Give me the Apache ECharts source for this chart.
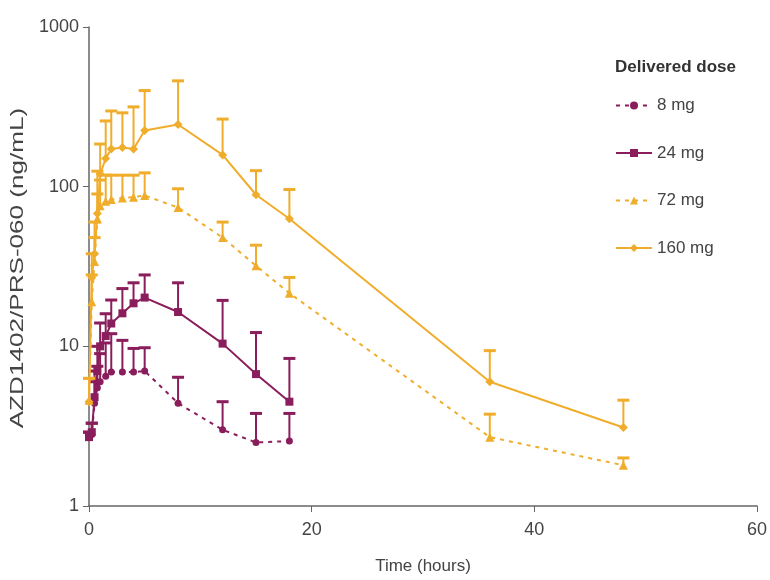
<!DOCTYPE html>
<html>
<head>
<meta charset="utf-8">
<script src="https://cdn.jsdelivr.net/npm/echarts@6/dist/echarts.min.js"></script>
<style>
html,body{margin:0;padding:0;background:#fff;}
#chart{width:770px;height:580px;}
</style>
</head>
<body>
<div id="chart"></div>
<script>
// ---- data ----
var seriesNames = ['8 mg', '24 mg', '72 mg', '160 mg'];
var xTicks = [0, 20, 40, 60];
var yTicks = [1, 10, 100, 1000];

var time8 = [0, 0.25, 0.5, 0.75, 1, 1.5, 2, 3, 4, 5, 8, 12, 15, 18];
var mean8 = [2.7, 2.8, 4.4, 5.5, 6.0, 6.5, 6.9, 6.9, 6.9, 7.0, 4.4, 3.0, 2.5, 2.55];
var upper8 = [2.9, 3.3, 6.0, 7.5, 9.0, 10.5, 12.0, 10.9, 9.7, 9.8, 6.4, 4.5, 3.8, 3.8];

var time24 = [0, 0.25, 0.5, 0.75, 1, 1.5, 2, 3, 4, 5, 8, 12, 15, 18];
var mean24 = [2.7, 2.9, 4.8, 7.0, 10.0, 11.6, 13.9, 16.1, 18.6, 20.2, 16.4, 10.4, 6.7, 4.5];
var upper24 = [2.9, 3.3, 7.0, 10.0, 14.0, 16.0, 19.5, 23.0, 25.0, 28.0, 25.0, 19.4, 12.2, 8.4];

var time72 = [0, 0.25, 0.5, 0.75, 1, 1.5, 2, 3, 4, 5, 8, 12, 15, 18, 36, 48];
var mean72 = [4.6, 19, 34, 63, 76, 81, 83, 85, 86, 88, 74, 48, 32, 21.5, 2.7, 1.8];
var upper72 = [6.3, 28, 48, 90, 110, 118, 118, 118, 118, 122, 97, 60, 43, 27, 3.76, 2.0];

var time160 = [0, 0.25, 0.5, 0.75, 1, 1.5, 2, 3, 4, 5, 8, 12, 15, 18, 36, 48];
var mean160 = [4.5, 27, 38, 68, 120, 150, 172, 176, 172, 225, 245, 158, 89, 63, 6.0, 3.1];
var upper160 = [6.3, 38, 60, 125, 185, 258, 298, 290, 316, 400, 460, 265, 126, 96, 9.4, 4.6];

var PURPLE = '#8a1d5c';
var GOLD = '#f0ad2c';
var FONT = "'Liberation Sans', Arial, sans-serif";

function pairs(t, v) { return t.map(function (x, i) { return [x, v[i]]; }); }
function triples(t, v, u) { return t.map(function (x, i) { return [x, v[i], u[i]]; }); }

function errSeries(name, t, v, u, color) {
  return {
    type: 'custom',
    name: name,
    z: 1,
    silent: true,
    data: triples(t, v, u),
    renderItem: function (params, api) {
      var p0 = api.coord([api.value(0), api.value(1)]);
      var p1 = api.coord([api.value(0), api.value(2)]);
      var hw = 6;
      return {
        type: 'group',
        children: [
          { type: 'line', shape: { x1: p0[0], y1: p0[1], x2: p1[0], y2: p1[1] }, style: { stroke: color, lineWidth: 2 } },
          { type: 'line', shape: { x1: p1[0] - hw, y1: p1[1], x2: p1[0] + hw, y2: p1[1] }, style: { stroke: color, lineWidth: 3 } }
        ]
      };
    },
    encode: { x: 0, y: [1, 2] }
  };
}

function lineSeries(name, t, v, color, symbol, size, dashed) {
  return {
    type: 'line',
    name: name,
    z: 3,
    data: pairs(t, v),
    symbol: symbol,
    symbolSize: size,
    showAllSymbol: true,
    itemStyle: { color: color },
    lineStyle: { color: color, width: 2, type: dashed ? [4, 5] : 'solid' }
  };
}

var chart = echarts.init(document.getElementById('chart'));
chart.setOption({
  animation: false,
  backgroundColor: '#fff',
  grid: { left: 89, right: 12, top: 27, bottom: 74 },
  title: {
    text: 'Delivered dose',
    left: 610, top: 54,
    textStyle: { fontFamily: FONT, fontSize: 17, fontWeight: 'bold', color: '#333' }
  },
  legend: {
    data: seriesNames,
    orient: 'vertical',
    left: 610, top: 92,
    itemWidth: 36, itemHeight: 10,
    itemGap: 30.5,
    textStyle: { fontFamily: FONT, fontSize: 17, color: '#444' }
  },
  graphic: [{
    type: 'text',
    x: 18, y: 268,
    rotation: Math.PI / 2,
    scaleX: 1.45,
    style: {
      text: 'AZD1402/PRS-060 (ng/mL)',
      fontFamily: FONT, fontSize: 18, fill: '#444',
      align: 'center', verticalAlign: 'middle'
    }
  }],
  xAxis: {
    type: 'value', min: 0, max: 60, interval: 20,
    name: 'Time (hours)', nameLocation: 'middle', nameGap: 52,
    nameTextStyle: { fontFamily: FONT, fontSize: 17, color: '#444' },
    axisLine: { lineStyle: { color: '#666', width: 1.5 } },
    axisTick: { show: true, length: 6, lineStyle: { color: '#666' } },
    axisLabel: { fontFamily: FONT, fontSize: 18, color: '#444', margin: 15 },
    splitLine: { show: false }
  },
  yAxis: {
    type: 'log', logBase: 10, min: 1, max: 1000,
    axisLine: { show: true, lineStyle: { color: '#666', width: 1.5 } },
    axisTick: { show: true, length: 6, lineStyle: { color: '#666' } },
    minorTick: { show: false },
    axisLabel: { fontFamily: FONT, fontSize: 18, color: '#444', margin: 10,
      formatter: function (v) { return String(Math.round(v)); } },
    splitLine: { show: false }
  },
  series: [
    errSeries('e8', time8, mean8, upper8, PURPLE),
    errSeries('e24', time24, mean24, upper24, PURPLE),
    errSeries('e72', time72, mean72, upper72, GOLD),
    errSeries('e160', time160, mean160, upper160, GOLD),
    lineSeries('8 mg', time8, mean8, PURPLE, 'circle', 7, true),
    lineSeries('24 mg', time24, mean24, PURPLE, 'rect', 8, false),
    lineSeries('72 mg', time72, mean72, GOLD, 'triangle', 9, true),
    lineSeries('160 mg', time160, mean160, GOLD, 'diamond', 9, false)
  ]
});
</script>
</body>
</html>
